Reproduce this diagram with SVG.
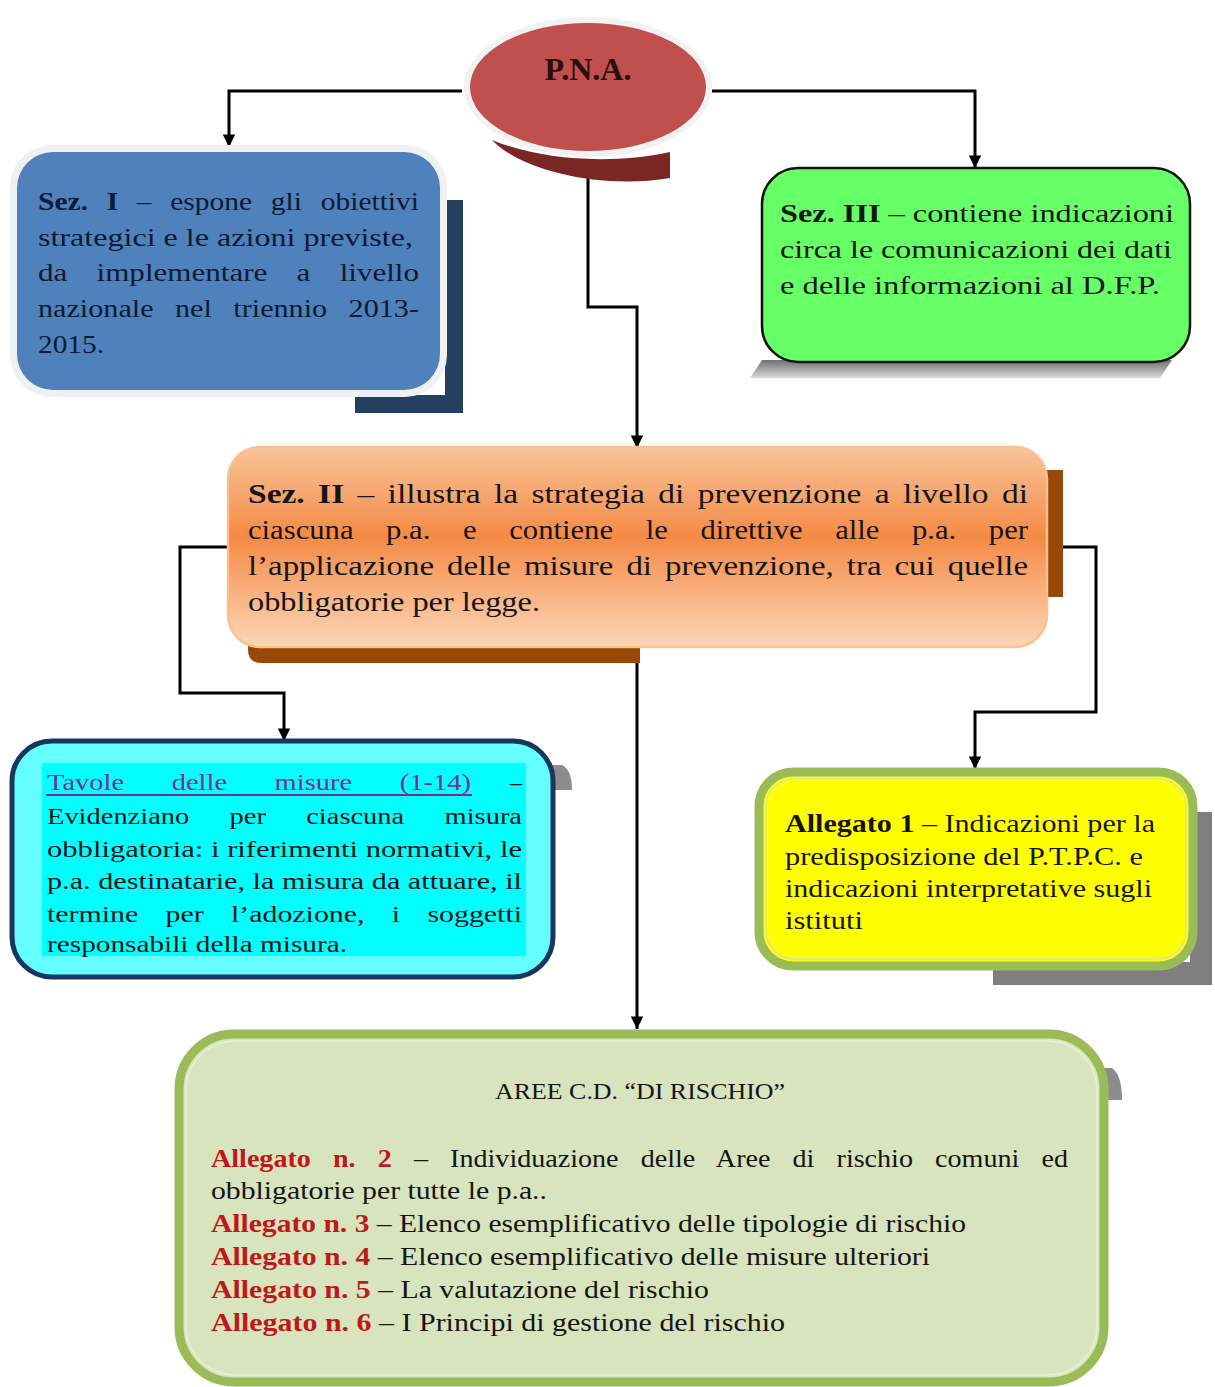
<svg xmlns="http://www.w3.org/2000/svg" width="1215" height="1387" viewBox="0 0 1215 1387">
<style>
text{font-family:"Liberation Serif","Times New Roman",serif;font-size:26px;fill:#151515}
.b{font-weight:bold}
.red{fill:#c0181a;font-weight:bold}
.conn{fill:none;stroke:#000;stroke-width:3}
</style>
<defs>
<marker id="ah" viewBox="0 0 10 10" refX="10" refY="5" markerWidth="4.2" markerHeight="4.2" markerUnits="strokeWidth" orient="auto">
<path d="M0,0 L10,5 L0,10 z" fill="#000"/>
</marker>
<linearGradient id="og" x1="0" y1="0" x2="0" y2="1">
<stop offset="0" stop-color="#f9c49c"/>
<stop offset="0.45" stop-color="#f58a45"/>
<stop offset="1" stop-color="#fcd7b8"/>
</linearGradient>
<linearGradient id="gs" x1="0" y1="0" x2="0" y2="1">
<stop offset="0" stop-color="#6f6f6f"/>
<stop offset="1" stop-color="#d9d9d9"/>
</linearGradient>
</defs>

<g id="connectors">
<path class="conn" d="M462,91 H229 V147" marker-end="url(#ah)"/>
<path class="conn" d="M712,91 H975 V168" marker-end="url(#ah)"/>
<path class="conn" d="M588,172 V307 H637 V448" marker-end="url(#ah)"/>
<path class="conn" d="M230,547 H180 V693 H284 V741" marker-end="url(#ah)"/>
<path class="conn" d="M1045,547 H1096 V712 H975 V769" marker-end="url(#ah)"/>
<path class="conn" d="M637,648 V1029" marker-end="url(#ah)"/>
</g>

<g id="pna">
<path d="M492,140 C520,170 600,190 670,178 L670,152 C610,165 540,160 492,140 z" fill="#7a2623"/>
<ellipse cx="588" cy="87" rx="124" ry="70" fill="#f2f2f2"/>
<ellipse cx="588" cy="87" rx="118" ry="64" fill="#c0504d"/>
<text x="588" y="80" text-anchor="middle" class="b" style="font-size:32px;fill:#2a0f0f">P.N.A.</text>
</g>

<g id="sez1">
<rect x="445" y="200" width="18" height="213" fill="#243f60"/>
<rect x="355" y="395" width="108" height="18" fill="#243f60"/>
<rect x="10" y="145" width="437" height="252" rx="42" fill="#eef1f4"/>
<rect x="17" y="152" width="423" height="238" rx="36" fill="#4f81bd"/>
<g style="fill:#0d1a33">
<text x="38" y="210" textLength="381" lengthAdjust="spacingAndGlyphs" style="fill:#0d1a33;word-spacing:10px"><tspan class="b">Sez. I</tspan> – espone gli obiettivi</text>
<text x="38" y="246" textLength="375" lengthAdjust="spacingAndGlyphs" style="fill:#0d1a33">strategici e le azioni previste,</text>
<text x="38" y="281" textLength="381" lengthAdjust="spacingAndGlyphs" style="fill:#0d1a33;word-spacing:18px">da implementare a livello</text>
<text x="38" y="317" textLength="381" lengthAdjust="spacingAndGlyphs" style="fill:#0d1a33;word-spacing:12px">nazionale nel triennio 2013-</text>
<text x="38" y="353" textLength="66" lengthAdjust="spacingAndGlyphs" style="fill:#0d1a33">2015.</text>
</g>
</g>

<g id="sez3">
<path d="M762,360 H1172 L1160,378 H750 z" fill="url(#gs)"/>
<rect x="762" y="168" width="428" height="194" rx="36" fill="#66ff66" stroke="#111" stroke-width="2.5"/>
<text x="780" y="222" textLength="394" lengthAdjust="spacingAndGlyphs"><tspan class="b">Sez. III</tspan> – contiene indicazioni</text>
<text x="780" y="258" textLength="392" lengthAdjust="spacingAndGlyphs">circa le comunicazioni dei dati</text>
<text x="780" y="294" textLength="380" lengthAdjust="spacingAndGlyphs">e delle informazioni al D.F.P.</text>
</g>

<g id="sez2">
<rect x="1040" y="470" width="23" height="127" fill="#984807"/>
<path d="M248,630 H640 V663 H262 Q248,663 248,650 z" fill="#984807"/>
<rect x="228" y="447" width="819" height="200" rx="32" fill="url(#og)" stroke="#fac090" stroke-width="2.5"/>
<text x="248" y="503" textLength="780" lengthAdjust="spacingAndGlyphs" style="font-size:27px;word-spacing:4px"><tspan class="b">Sez. II</tspan> – illustra la strategia di prevenzione a livello di</text>
<text x="248" y="539" textLength="780" lengthAdjust="spacingAndGlyphs" style="font-size:27px;word-spacing:22px">ciascuna p.a. e contiene le direttive alle p.a. per</text>
<text x="248" y="575" textLength="780" lengthAdjust="spacingAndGlyphs" style="font-size:27px;word-spacing:4px">l’applicazione delle misure di prevenzione, tra cui quelle</text>
<text x="248" y="611" textLength="292" lengthAdjust="spacingAndGlyphs" style="font-size:27px">obbligatorie per legge.</text>
</g>

<g id="tavole">
<path d="M548,765 H562 Q572,770 572,790 H548 z" fill="#8c8c8c"/>
<rect x="12" y="741" width="541" height="236" rx="40" fill="#66ffff" stroke="#17375e" stroke-width="5"/>
<rect x="42" y="763" width="484" height="193" fill="#00ffff"/>
<text x="47" y="790" textLength="424" lengthAdjust="spacingAndGlyphs" style="font-size:24px;fill:#7a2f8f;word-spacing:34px">Tavole delle misure (1-14)</text>
<line x1="46" y1="795" x2="472" y2="795" stroke="#7a2f8f" stroke-width="2"/>
<text x="510" y="790" style="font-size:24px">–</text>
<text x="47" y="824" textLength="475" lengthAdjust="spacingAndGlyphs" style="font-size:24px;word-spacing:28px">Evidenziano per ciascuna misura</text>
<text x="47" y="857" textLength="475" lengthAdjust="spacingAndGlyphs" style="font-size:24px">obbligatoria: i riferimenti normativi, le</text>
<text x="47" y="889" textLength="475" lengthAdjust="spacingAndGlyphs" style="font-size:24px">p.a. destinatarie, la misura da attuare, il</text>
<text x="47" y="922" textLength="475" lengthAdjust="spacingAndGlyphs" style="font-size:24px;word-spacing:16px">termine per l’adozione, i soggetti</text>
<text x="47" y="952" textLength="300" lengthAdjust="spacingAndGlyphs" style="font-size:24px">responsabili della misura.</text>
</g>

<g id="allegato1">
<rect x="1190" y="812" width="22" height="173" fill="#7f7f7f"/>
<rect x="993" y="962" width="219" height="23" fill="#7f7f7f"/>
<rect x="759" y="772" width="434" height="194" rx="34" fill="#ffff00" stroke="#9bbb59" stroke-width="9"/>
<rect x="766" y="779" width="420" height="180" rx="28" fill="none" stroke="#d6e3a8" stroke-width="1.5"/>
<text x="785" y="832" textLength="370" lengthAdjust="spacingAndGlyphs" style="font-size:25px"><tspan class="b">Allegato 1</tspan> – Indicazioni per la</text>
<text x="785" y="865" textLength="358" lengthAdjust="spacingAndGlyphs" style="font-size:25px">predisposizione del P.T.P.C. e</text>
<text x="785" y="897" textLength="367" lengthAdjust="spacingAndGlyphs" style="font-size:25px">indicazioni interpretative sugli</text>
<text x="785" y="929" textLength="78" lengthAdjust="spacingAndGlyphs" style="font-size:25px">istituti</text>
</g>

<g id="aree">
<path d="M1100,1068 H1112 Q1122,1075 1122,1100 H1100 z" fill="#8c8c8c"/>
<rect x="179" y="1034" width="925" height="348" rx="55" fill="#d7e4bd" stroke="#9bbb59" stroke-width="9"/>
<rect x="186" y="1041" width="911" height="334" rx="49" fill="none" stroke="#e8f0d6" stroke-width="1.5"/>
<text x="640" y="1099" text-anchor="middle" textLength="290" lengthAdjust="spacingAndGlyphs" style="font-size:23px">AREE C.D. “DI RISCHIO”</text>
<text x="211" y="1167" textLength="857" lengthAdjust="spacingAndGlyphs" style="word-spacing:14px"><tspan class="red">Allegato n. 2</tspan> – Individuazione delle Aree di rischio comuni ed</text>
<text x="211" y="1199" textLength="336" lengthAdjust="spacingAndGlyphs">obbligatorie per tutte le p.a..</text>
<text x="211" y="1232" textLength="755" lengthAdjust="spacingAndGlyphs"><tspan class="red">Allegato n. 3</tspan> – Elenco esemplificativo delle tipologie di rischio</text>
<text x="211" y="1265" textLength="719" lengthAdjust="spacingAndGlyphs"><tspan class="red">Allegato n. 4</tspan> – Elenco esemplificativo delle misure ulteriori</text>
<text x="211" y="1298" textLength="498" lengthAdjust="spacingAndGlyphs"><tspan class="red">Allegato n. 5</tspan> – La valutazione del rischio</text>
<text x="211" y="1331" textLength="574" lengthAdjust="spacingAndGlyphs"><tspan class="red">Allegato n. 6</tspan> – I Principi di gestione del rischio</text>
</g>
</svg>
